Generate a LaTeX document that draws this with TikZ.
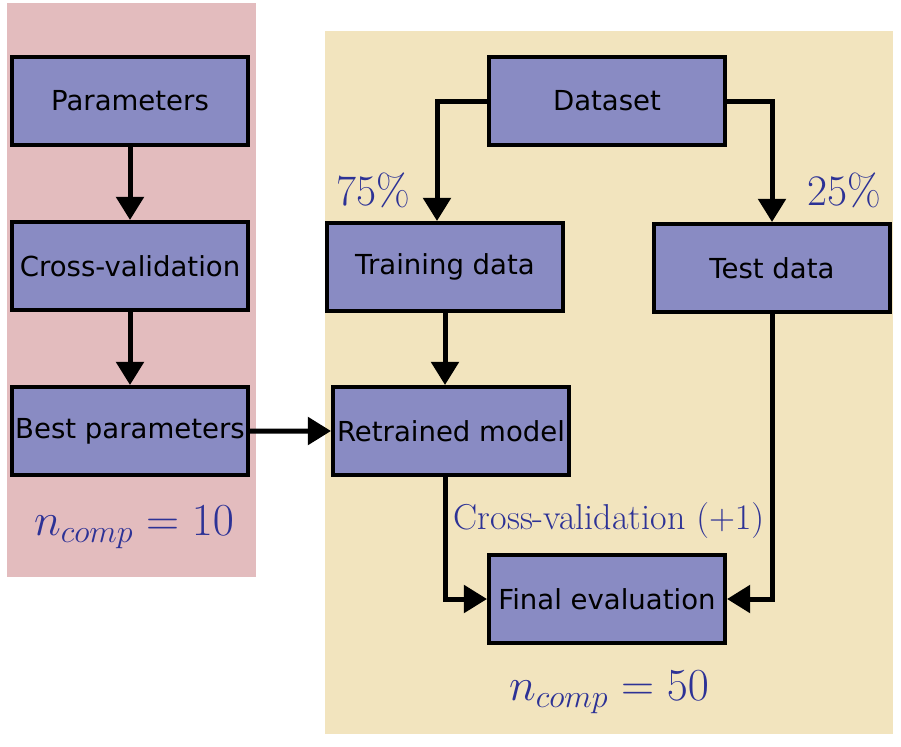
\RequirePackage{fix-cm}
\documentclass[tikz,border=0pt]{standalone}
\usepackage{fontspec}
\newfontfamily\boxfont{DejaVu Sans}
\usetikzlibrary{arrows.meta}
\definecolor{panelpink}{RGB}{227,188,190}
\definecolor{panelsand}{RGB}{242,228,190}
\definecolor{boxblue}{RGB}{137,139,195}
\definecolor{noteblue}{RGB}{45,50,150}
\begin{document}
\begin{tikzpicture}[
  block/.style={rectangle, draw, line width=0.09cm, fill=boxblue, minimum width=5.91cm, minimum height=2.21cm, inner sep=0pt, font=\boxfont\fontsize{19.6}{24}\selectfont},
  note/.style={text=noteblue, font=\fontsize{31}{36}\selectfont},
  >={Triangle[length=0.58cm,width=0.68cm]},
  node distance=4.125cm
]
\useasboundingbox (0,0) rectangle (22.525,-18.65);
% panels
\fill[panelpink] (0.175,-0.075) rectangle (6.4,-14.425);
\fill[panelsand] (8.125,-0.775) rectangle (22.325,-18.35);

\node[block] (params) at (3.25,-2.525) {Parameters};
\node[block, below of=params] (crossval) {Cross-validation};
\node[block, below of=crossval] (bestpar) {Best parameters};
\node[block, right of=params, node distance=11.925cm] (dataset) {Dataset};
\node[block, below of=dataset, node distance=4.15cm, xshift=-4.05cm] (train) {Training data};
\node[block, below of=dataset, node distance=4.175cm, xshift=4.125cm] (test) {Test data};
\node[block, below of=train, node distance=4.1cm, xshift=0.15cm] (retrain) {Retrained model};
\node[block, below of=dataset, node distance=12.45cm] (final) {Final evaluation};

\node[note, above of=train, node distance=1.925cm, xshift=-1.8cm] (split_train) {$75\%$};
\node[note, above of=test, node distance=1.95cm, xshift=1.8cm] (split_test) {$25\%$};
\node[note, above of=final, node distance=1.975cm, xshift=0.05cm, font=\fontsize{25.6}{30}\selectfont] (cv_note) {Cross-validation $(+1)$};
\node[note, below of=bestpar, node distance=2.4cm, xshift=0.1cm, font=\fontsize{32.6}{38}\selectfont] (ncomp_left) {$n_{comp}=10$};
\node[note, below of=final, node distance=2.325cm, xshift=0.05cm, font=\fontsize{32.6}{38}\selectfont] (ncomp_right) {$n_{comp}=50$};

\draw[->,line width=0.125cm] (params) -- (crossval);
\draw[->,line width=0.125cm] (crossval) -- (bestpar);
\draw[->,line width=0.125cm] (bestpar) -- (retrain);
\draw[->,line width=0.125cm] (dataset.west) -| ([xshift=-0.2cm]train.north);
\draw[->,line width=0.125cm] (dataset.east) -| (test.north);
\draw[->,line width=0.125cm] (train.south) -- (train.south |- retrain.north);
\draw[->,line width=0.125cm] (train.south |- retrain.south) |- (final.west);
\draw[->,line width=0.125cm] (test.south) |- (final.east);
\end{tikzpicture}
\end{document}
